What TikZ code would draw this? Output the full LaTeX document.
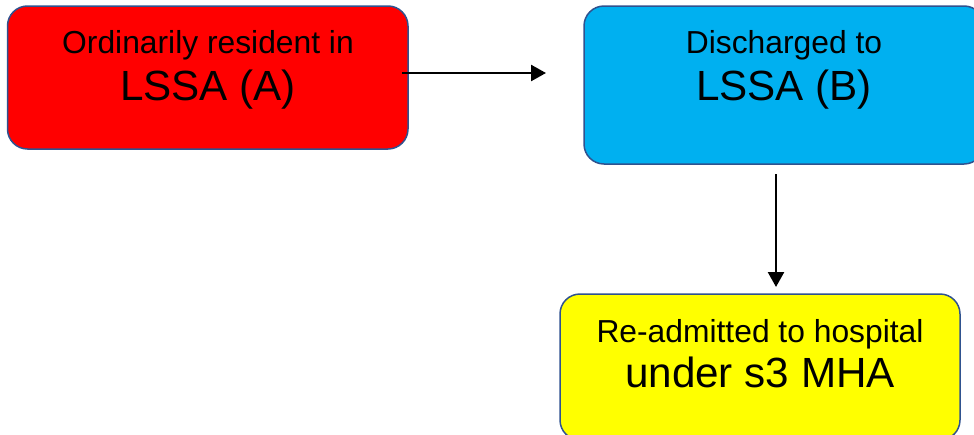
\documentclass[tikz,border=0pt]{standalone}
\usepackage{fontspec}
\setmainfont{Liberation Sans}
\usetikzlibrary{arrows.meta}
\definecolor{bred}{HTML}{FF0000}
\definecolor{bblue}{HTML}{00B0F0}
\definecolor{byellow}{HTML}{FFFF00}
\definecolor{bedge}{HTML}{2F528F}
\tikzset{
  boxstyle/.style={draw=bedge, line width=1.5pt, rounded corners=20pt, rectangle, inner sep=0pt, outer sep=0pt},
  smalltxt/.style={anchor=base, inner sep=0pt, font=\fontsize{31.8}{38}\selectfont},
  bigtxt/.style={anchor=base, inner sep=0pt, font=\fontsize{42.2}{50}\selectfont},
  arr/.style={draw=black, line width=2.5pt, -{Triangle[length=15pt,width=16pt]}}
}
\begin{document}
\begin{tikzpicture}[x=1pt,y=1pt]
\useasboundingbox (0,0) rectangle (974,-434);
% boxes
\node[boxstyle, fill=bred, minimum width=400.5pt, minimum height=143pt] (red) at (207.75,-77.5) {};
\node[boxstyle, fill=bblue, minimum width=400pt, minimum height=158pt] (blue) at (784,-85) {};
\node[boxstyle, fill=byellow, minimum width=400pt, minimum height=146pt] (yellow) at (760,-367) {};
% texts
\node[smalltxt] (redA) at (208,-53) {Ordinarily resident in};
\node[bigtxt] (redB) at (208,-100) {LSSA (A)};
\node[smalltxt] (blueA) at (784,-53) {Discharged to};
\node[bigtxt] (blueB) at (784,-100) {LSSA (B)};
\node[smalltxt] (yelA) at (760,-342) {Re-admitted to hospital};
\node[bigtxt] (yelB) at (760,-387) {under s3 MHA};
% connectors
\draw[arr] ([shift={(-6pt,4.5pt)}]red.east) -- ([shift={(-38pt,12pt)}]blue.west);
\draw[arr] ([shift={(-8pt,-10pt)}]blue.south) -- ([shift={(16pt,7pt)}]yellow.north);
\end{tikzpicture}
\end{document}
